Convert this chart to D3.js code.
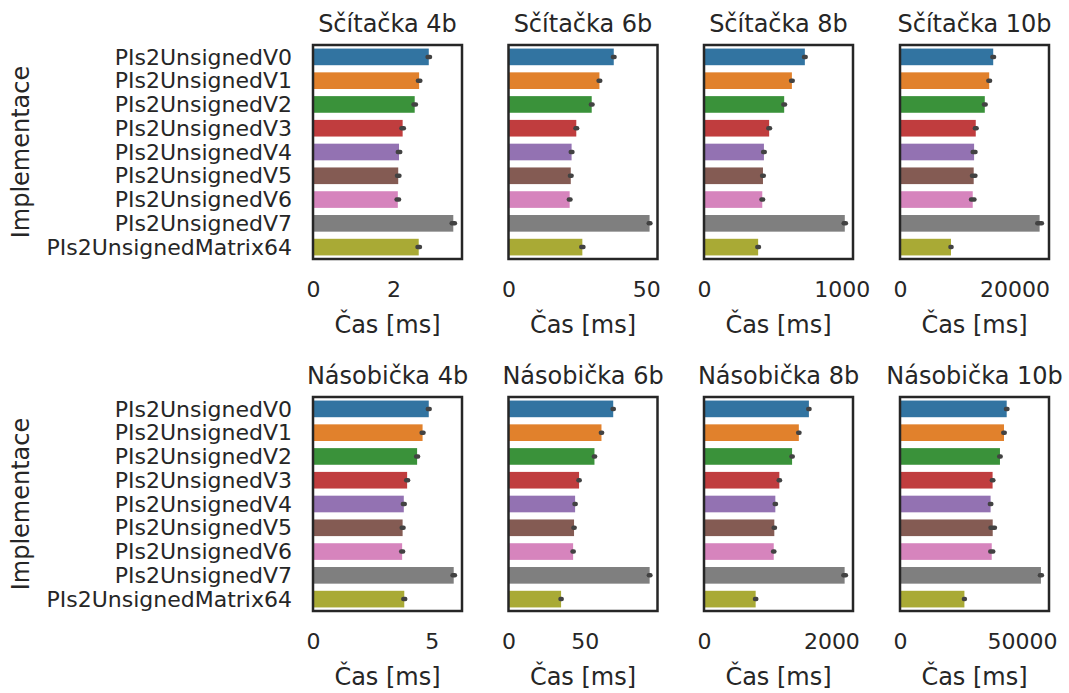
<!DOCTYPE html>
<html><head><meta charset="utf-8">
<script src="https://cdn.jsdelivr.net/npm/d3@7"></script>
<style>
body{margin:0;background:#fff}
svg{display:block}
text{font-family:"DejaVu Sans",sans-serif;fill:#262626}
</style>
</head><body><svg id="c" width="1069" height="693"></svg>
<script>
const categories = ["PIs2UnsignedV0","PIs2UnsignedV1","PIs2UnsignedV2","PIs2UnsignedV3","PIs2UnsignedV4","PIs2UnsignedV5","PIs2UnsignedV6","PIs2UnsignedV7","PIs2UnsignedMatrix64"];
const colors = ["#3274a1","#e1812c","#3a923a","#c03d3e","#9372b2","#845b53","#d684bd","#7f7f7f","#a9aa35"];

const addTitles = ["Sčítačka 4b","Sčítačka 6b","Sčítačka 8b","Sčítačka 10b"];
const mulTitles = ["Násobička 4b","Násobička 6b","Násobička 8b","Násobička 10b"];

// Sčítačka (adder) mean times [ms]
const add4  = [2.88, 2.64, 2.53, 2.23, 2.14, 2.12, 2.11, 3.49, 2.63];
const add6  = [38.2, 33.0, 30.2, 24.6, 22.9, 22.6, 22.2, 51.2, 26.8];
const add8  = [732, 638, 582, 473, 435, 428, 423, 1022, 393];
const add10 = [16290, 15590, 14820, 13240, 12950, 12880, 12710, 24400, 8910];
// error half-widths
const add4Err  = [0.03, 0.03, 0.03, 0.03, 0.03, 0.03, 0.03, 0.04, 0.03];
const add6Err  = [0.3, 0.3, 0.3, 0.3, 0.3, 0.3, 0.3, 0.3, 0.4];
const add8Err  = [6, 6, 6, 6, 6, 6, 6, 8, 6];
const add10Err = [150, 150, 150, 150, 250, 300, 300, 400, 100];

// Násobička (multiplier) mean times [ms]
const mul4  = [4.87, 4.61, 4.38, 3.96, 3.82, 3.77, 3.75, 5.92, 3.84];
const mul6  = [68.7, 61.0, 56.4, 46.3, 43.7, 43.0, 42.4, 92.6, 34.5];
const mul8  = [1647, 1489, 1383, 1183, 1120, 1104, 1095, 2208, 811];
const mul10 = [43730, 42630, 40970, 37950, 37130, 38000, 37600, 57760, 26400];
const mul4Err  = [0.04, 0.04, 0.04, 0.04, 0.04, 0.04, 0.04, 0.05, 0.04];
const mul6Err  = [0.4, 0.4, 0.4, 0.4, 0.4, 0.4, 0.4, 0.5, 0.4];
const mul8Err  = [10, 10, 10, 10, 10, 10, 10, 20, 10];
const mul10Err = [300, 300, 300, 300, 300, 900, 600, 400, 200];

const add4Ticks = [0, 2], add6Ticks = [0, 50], add8Ticks = [0, 1000], add10Ticks = [0, 20000];
const mul4Ticks = [0, 5], mul6Ticks = [0, 50], mul8Ticks = [0, 2000], mul10Ticks = [0, 50000];

const xLabel = "Čas [ms]";
const yLabel = "Implementace";

const panels = [
  {row:0,col:0,title:addTitles[0],vals:add4,err:add4Err,ticks:add4Ticks},
  {row:0,col:1,title:addTitles[1],vals:add6,err:add6Err,ticks:add6Ticks},
  {row:0,col:2,title:addTitles[2],vals:add8,err:add8Err,ticks:add8Ticks},
  {row:0,col:3,title:addTitles[3],vals:add10,err:add10Err,ticks:add10Ticks},
  {row:1,col:0,title:mulTitles[0],vals:mul4,err:mul4Err,ticks:mul4Ticks},
  {row:1,col:1,title:mulTitles[1],vals:mul6,err:mul6Err,ticks:mul6Ticks},
  {row:1,col:2,title:mulTitles[2],vals:mul8,err:mul8Err,ticks:mul8Ticks},
  {row:1,col:3,title:mulTitles[3],vals:mul10,err:mul10Err,ticks:mul10Ticks}
];

const colX = [313, 508.5, 704, 900];
const rowY = [45, 397];
const W = 149, H = 214;

const svg = d3.select("#c");

panels.forEach(p => {
  const g = svg.append("g").attr("transform", `translate(${colX[p.col]},${rowY[p.row]})`);
  const maxEnd = d3.max(p.vals, (v,i) => v + p.err[i]);
  const x = d3.scaleLinear().domain([0, maxEnd * 1.05]).range([0, W]);
  const y = d3.scaleBand().domain(categories).range([0, H]).paddingInner(0.3).paddingOuter(0.15);

  g.selectAll("rect.bar").data(p.vals).join("rect")
    .attr("class","bar")
    .attr("x", 0)
    .attr("y", (d,i) => y(categories[i]))
    .attr("width", d => x(d))
    .attr("height", y.bandwidth())
    .attr("fill", (d,i) => colors[i]);

  g.selectAll("line.err").data(p.vals).join("line")
    .attr("class","err")
    .attr("x1", (d,i) => x(d - p.err[i]))
    .attr("x2", (d,i) => x(d + p.err[i]))
    .attr("y1", (d,i) => y(categories[i]) + y.bandwidth()/2)
    .attr("y2", (d,i) => y(categories[i]) + y.bandwidth()/2)
    .attr("stroke", "#424242")
    .attr("stroke-width", 4.5)
    .attr("stroke-linecap", "round");

  g.append("rect")
    .attr("x", 0).attr("y", 0).attr("width", W).attr("height", H)
    .attr("fill", "none").attr("stroke", "#262626").attr("stroke-width", 2.5);

  const xa = g.append("g").attr("transform", `translate(0,${H})`)
    .call(d3.axisBottom(x).tickValues(p.ticks).tickSize(0).tickPadding(22.5).tickFormat(d3.format("d")));
  xa.select(".domain").remove();
  xa.selectAll("text").attr("font-size", 22).attr("font-family", '"DejaVu Sans",sans-serif').attr("fill", "#262626");

  if (p.col === 0) {
    const ya = g.append("g").call(d3.axisLeft(y).tickSize(0).tickPadding(21));
    ya.select(".domain").remove();
    ya.selectAll("text").attr("font-size", 22).attr("font-family", '"DejaVu Sans",sans-serif').attr("fill", "#262626").attr("dy", "0.35em");
    g.append("text")
      .attr("transform", `translate(${29 - colX[0]},${H/2}) rotate(-90)`)
      .attr("text-anchor", "middle")
      .attr("font-size", 24)
      .text(yLabel);
  }

  g.append("text")
    .attr("x", W/2).attr("y", -13)
    .attr("text-anchor", "middle")
    .attr("font-size", 24)
    .text(p.title);

  g.append("text")
    .attr("x", W/2).attr("y", H + 74)
    .attr("text-anchor", "middle")
    .attr("font-size", 24)
    .text(xLabel);
});
</script>
</body></html>
